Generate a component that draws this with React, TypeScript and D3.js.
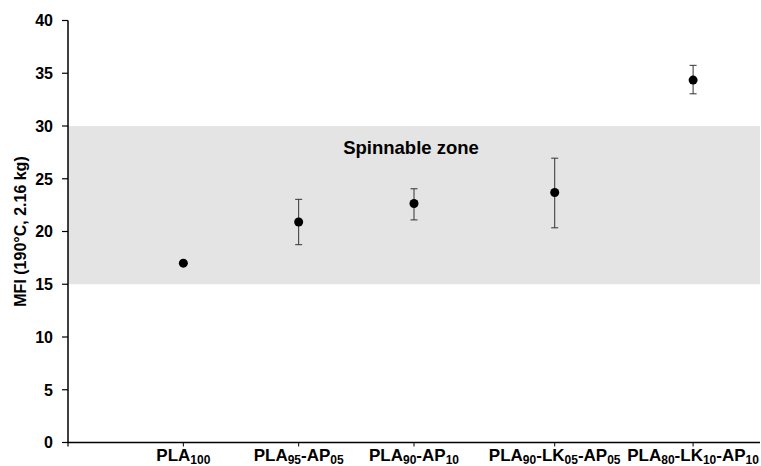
import React from 'react';
import * as d3 from 'd3';

// category labels: each piece is [main text, subscript]
const labels: [string, string][][] = [
  [['PLA', '100']],
  [['PLA', '95'], ['-AP', '05']],
  [['PLA', '90'], ['-AP', '10']],
  [['PLA', '90'], ['-LK', '05'], ['-AP', '05']],
  [['PLA', '80'], ['-LK', '10'], ['-AP', '10']],
];
// positions along the x axis (unevenly spaced in the original)
const xPos = [1, 2, 3, 4.22, 5.42];
const mfi = [17.0, 20.9, 22.65, 23.7, 34.35];
const errLow = [0, 2.15, 1.55, 3.35, 1.3];
const errHigh = [0, 2.15, 1.4, 3.25, 1.4];
const yTicks = [0, 5, 10, 15, 20, 25, 30, 35, 40];
const zone = [15, 30];

const W = 761;
const H = 466;
const margin = { top: 20.5, right: 1, bottom: 23.5, left: 68 };

export default function App() {
  const x = d3.scaleLinear().domain([0, 6]).range([margin.left, W - margin.right]);
  const y = d3.scaleLinear().domain([0, 40]).range([H - margin.bottom, margin.top]);
  const font = '"Liberation Sans", Arial, sans-serif';
  const x0 = margin.left;
  const y0 = y(0);

  return (
    <svg width={W} height={H} style={{ position: 'absolute', left: 0, top: 0 }} fontFamily={font}>
      <rect x={x0} y={y(zone[1])} width={W - margin.right - x0} height={y(zone[0]) - y(zone[1])} fill="#e4e4e4" />
      <text x={411} y={y(27.3)} textAnchor="middle" fontSize={18.5} fontWeight="bold" fill="#000">
        Spinnable zone
      </text>

      {/* y axis */}
      <line x1={x0} x2={x0} y1={y(40)} y2={y0} stroke="#000" strokeWidth={1.5} />
      {yTicks.map((t) => (
        <g key={t}>
          <line x1={x0 - 6} x2={x0} y1={y(t)} y2={y(t)} stroke="#000" strokeWidth={1.2} />
          <text x={x0 - 15} y={y(t)} dy="0.36em" textAnchor="end" fontSize={16} fontWeight="bold">
            {t}
          </text>
        </g>
      ))}
      <text
        transform={`translate(26,${y(20)}) rotate(-90)`}
        textAnchor="middle"
        fontSize={16}
        fontWeight="bold"
      >
        MFI (190°C, 2.16 kg)
      </text>

      {/* x axis */}
      <line x1={x0} x2={W - margin.right} y1={y0} y2={y0} stroke="#000" strokeWidth={1.5} />
      <line x1={x0} x2={x0} y1={y0} y2={y0 + 4} stroke="#000" strokeWidth={1.2} />
      {xPos.map((p, i) => (
        <g key={i}>
          <line x1={x(p)} x2={x(p)} y1={y0} y2={y0 + 4} stroke="#000" strokeWidth={1} />
          <text x={x(p)} y={y0 + 18} textAnchor="middle" fontSize={17} fontWeight="bold">
            {labels[i].map(([main, sub], j) => (
              <React.Fragment key={j}>
                <tspan dy={j === 0 ? 0 : -3.5}>{main}</tspan>
                <tspan dy={3.5} fontSize={12}>{sub}</tspan>
              </React.Fragment>
            ))}
          </text>
        </g>
      ))}

      {/* error bars and points */}
      {xPos.map((p, i) => {
        const cx = x(p);
        const top = y(mfi[i] + errHigh[i]);
        const bot = y(mfi[i] - errLow[i]);
        return (
          <g key={i}>
            {errHigh[i] > 0 && (
              <g stroke="#333" strokeWidth={1}>
                <line x1={cx} x2={cx} y1={top} y2={bot} />
                <line x1={cx - 3.5} x2={cx + 3.5} y1={top} y2={top} />
                <line x1={cx - 3.5} x2={cx + 3.5} y1={bot} y2={bot} />
              </g>
            )}
            <circle cx={cx} cy={y(mfi[i])} r={4.5} fill="#000" />
          </g>
        );
      })}
    </svg>
  );
}
